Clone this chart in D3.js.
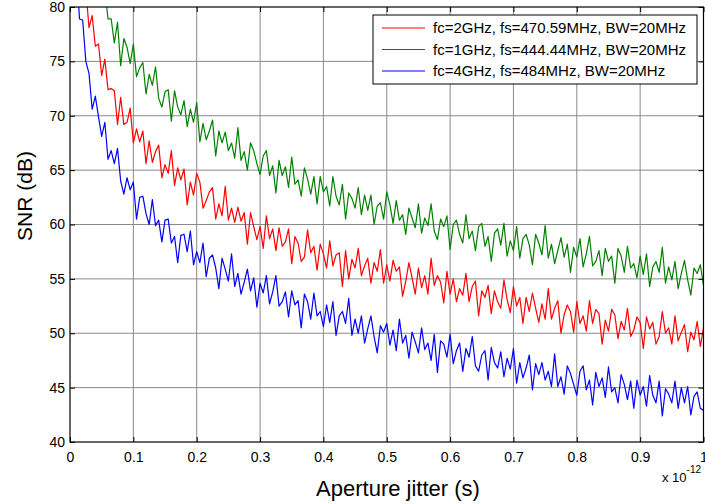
<!DOCTYPE html>
<html>
<head>
<meta charset="utf-8">
<script src="https://cdn.jsdelivr.net/npm/d3@7"></script>
<style>
  body { margin: 0; background: #fff; }
  svg { display: block; font-family: "Liberation Sans", Arial, Helvetica, sans-serif; }
  .tick text { fill: #000; }
</style>
</head>
<body>
<svg id="chart" width="705" height="504"></svg>
<script>
// aperture jitter samples, in units of 1e-12 s
const jitterStart = 0.01;
const jitterStep = 0.005;

const xTicks = [0, 0.1, 0.2, 0.3, 0.4, 0.5, 0.6, 0.7, 0.8, 0.9, 1];
const yTicks = [40, 45, 50, 55, 60, 65, 70, 75, 80];

const seriesNames = [
  "fc=2GHz, fs=470.59MHz, BW=20MHz",
  "fc=1GHz, fs=444.44MHz, BW=20MHz",
  "fc=4GHz, fs=484MHz, BW=20MHz"
];
const seriesColors = ["#ff0000", "#008000", "#0000ff"];

// SNR (dB), fc=2GHz
const snrRed = [
  90.8, 85.0, 84.1, 81.6, 78.1, 79.2, 76.4, 76.6, 73.7, 75.2,
  72.4, 72.5, 72.3, 69.2, 71.7, 69.2, 69.4, 70.7, 67.5, 68.8,
  67.6, 68.6, 65.6, 67.7, 65.7, 66.7, 67.3, 64.3, 65.5, 64.7,
  66.8, 63.6, 65.2, 64.1, 65.1, 61.8, 63.9, 62.7, 64.7, 63.9,
  61.5, 62.2, 63.0, 63.4, 60.5, 61.9, 60.8, 63.5, 60.4, 61.5,
  60.2, 61.6, 60.3, 61.1, 58.2, 61.1, 59.8, 58.6, 59.8, 57.8,
  60.8, 58.7, 59.6, 57.6, 59.7, 58.0, 58.4, 59.6, 56.4, 58.9,
  58.3, 56.6, 57.0, 59.5, 57.4, 58.0, 55.8, 58.2, 57.3, 56.0,
  58.5, 56.2, 57.2, 57.4, 54.3, 57.6, 55.0, 56.8, 56.0, 57.8,
  55.3, 56.2, 56.9, 54.6, 56.5, 55.7, 57.7, 54.6, 56.3, 54.8,
  56.7, 55.7, 56.1, 53.4, 54.8, 56.5, 55.1, 53.6, 56.0, 54.2,
  55.3, 53.6, 56.9, 54.4, 55.3, 54.7, 52.8, 55.7, 53.6, 55.0,
  52.9, 54.1, 53.5, 55.5, 52.9, 54.3, 54.8, 51.6, 53.9, 53.3,
  54.4, 51.8, 53.9, 52.9, 52.3, 54.9, 53.1, 51.9, 54.3, 52.5,
  53.3, 50.9, 53.3, 52.0, 53.7, 52.3, 51.0, 52.7, 51.3, 54.1,
  51.3, 52.3, 53.0, 50.0, 51.7, 52.6, 52.0, 50.1, 52.9, 50.9,
  51.6, 50.2, 53.0, 50.9, 52.2, 51.8, 49.0, 51.2, 50.2, 52.2,
  51.7, 49.5, 51.1, 50.3, 52.3, 49.7, 50.3, 51.5, 51.0, 48.6,
  51.5, 50.4, 51.0, 49.0, 49.7, 52.0, 50.0, 50.5, 49.0, 51.6,
  49.3, 50.1, 50.8, 48.3, 50.1, 49.4, 51.1, 48.8, 50.5
];

// SNR (dB), fc=1GHz
const snrGreen = [
  95.8, 90.8, 91.5, 87.3, 86.3, 82.8, 84.0, 82.1, 80.1, 81.6,
  78.9, 78.9, 76.7, 78.6, 74.6, 77.1, 76.3, 74.8, 76.6, 73.6,
  74.4, 74.9, 72.0, 73.8, 72.8, 74.5, 71.6, 70.8, 72.2, 72.4,
  69.5, 72.3, 70.8, 70.1, 71.4, 69.0, 70.6, 69.4, 71.2, 67.6,
  69.3, 67.8, 68.6, 69.6, 66.3, 68.6, 67.5, 68.5, 66.8, 67.5,
  66.1, 68.9, 65.9, 66.7, 65.0, 67.5, 66.8, 65.6, 64.6, 66.3,
  66.8, 64.5, 65.4, 62.9, 65.9, 64.5, 65.3, 63.4, 66.2, 63.7,
  64.1, 62.6, 65.2, 64.2, 62.8, 64.4, 61.9, 64.4, 63.0, 63.5,
  61.7, 64.4, 62.6, 61.8, 63.7, 60.5, 62.9, 62.4, 61.5, 63.4,
  60.9, 62.7, 61.3, 62.7, 60.0, 61.7, 62.0, 60.5, 63.0, 61.8,
  60.1, 62.2, 60.4, 60.9, 59.1, 61.5, 60.6, 59.7, 61.9, 59.2,
  60.6, 59.9, 61.9, 59.4, 58.6, 60.5, 59.8, 60.8, 57.7, 60.0,
  60.4, 59.1, 58.3, 60.9, 58.7, 59.4, 57.6, 59.8, 60.1, 58.0,
  58.9, 56.6, 59.2, 59.6, 58.1, 60.1, 57.1, 58.5, 57.6, 59.8,
  56.9, 58.7, 59.1, 58.1, 56.3, 59.1, 58.3, 57.2, 59.9, 56.9,
  58.2, 56.4, 57.6, 58.8, 57.0, 58.2, 55.6, 57.9, 57.0, 58.7,
  56.1, 57.3, 58.9, 56.2, 56.6, 57.6, 55.3, 57.8, 56.6, 57.1,
  54.6, 57.8, 57.1, 55.6, 58.0, 56.0, 56.4, 55.1, 57.1, 55.4,
  57.3, 54.3, 56.1, 56.6, 55.6, 57.9, 54.6, 56.1, 54.9, 56.6,
  54.1, 55.5, 56.7, 54.9, 53.5, 56.0, 55.5, 56.3, 54.4
];

// SNR (dB), fc=4GHz
const snrBlue = [
  83.8, 78.9, 78.8, 75.0, 73.9, 70.6, 71.8, 69.9, 68.1, 69.4,
  66.0, 66.8, 65.6, 67.0, 64.0, 62.8, 64.3, 63.2, 63.9, 60.5,
  62.5, 62.6, 61.0, 60.0, 62.3, 59.9, 60.4, 58.4, 60.4, 60.5,
  58.3, 58.9, 56.5, 59.0, 59.1, 57.5, 59.4, 56.3, 57.5, 56.5,
  58.3, 55.2, 56.9, 57.2, 56.0, 54.1, 56.9, 55.9, 54.8, 57.3,
  54.3, 55.5, 53.6, 54.7, 55.9, 53.9, 55.1, 52.4, 54.6, 53.7,
  55.3, 52.7, 53.8, 55.3, 52.5, 52.9, 53.8, 51.5, 53.9, 52.6,
  53.0, 50.5, 53.6, 52.9, 51.3, 53.7, 51.6, 52.0, 50.6, 52.6,
  51.0, 52.9, 49.8, 51.6, 52.0, 50.9, 53.2, 49.8, 51.3, 50.0,
  51.6, 49.1, 50.4, 51.6, 49.7, 48.2, 50.7, 50.1, 50.9, 48.9,
  50.3, 48.4, 51.3, 49.1, 49.8, 47.7, 50.1, 49.2, 48.2, 50.5,
  48.5, 49.1, 47.5, 49.9, 46.4, 49.3, 49.0, 47.8, 49.9, 47.2,
  48.4, 49.1, 46.5, 48.6, 47.8, 49.7, 47.0, 46.5, 48.0, 48.4,
  45.7, 48.7, 47.3, 46.8, 48.3, 46.0, 47.7, 46.7, 48.6, 45.4,
  47.3, 45.9, 46.8, 48.0, 44.8, 47.2, 46.2, 47.3, 45.7, 46.5,
  45.1, 48.1, 45.1, 46.0, 44.4, 47.0, 46.3, 45.3, 44.3, 46.5,
  47.0, 44.8, 45.7, 43.4, 46.4, 45.1, 45.9, 44.1, 46.9, 44.6,
  45.0, 43.6, 46.2, 45.3, 43.9, 45.6, 43.1, 45.7, 44.3, 45.1,
  43.3, 46.1, 44.3, 43.6, 45.6, 42.4, 44.9, 44.4, 43.6, 45.6,
  43.1, 45.0, 43.6, 45.1, 42.5, 44.2, 44.6, 43.1, 42.9
];

const series = [snrRed, snrGreen, snrBlue];

const width = 705, height = 504;
const margin = { top: 7, right: 1.5, bottom: 62, left: 70 };

const svg = d3.select("#chart");

const x = d3.scaleLinear()
  .domain([0, 1])
  .range([margin.left, width - margin.right]);

const y = d3.scaleLinear()
  .domain([40, 80])
  .range([height - margin.bottom, margin.top]);

// grid
svg.append("g")
  .selectAll("line")
  .data(xTicks.slice(1, -1))
  .join("line")
    .attr("x1", d => x(d)).attr("x2", d => x(d))
    .attr("y1", y(40)).attr("y2", y(80))
    .attr("stroke", "#8a8a8a")
    .attr("stroke-width", 1);

svg.append("g")
  .selectAll("line")
  .data(yTicks.slice(1, -1))
  .join("line")
    .attr("x1", x(0)).attr("x2", x(1))
    .attr("y1", d => y(d)).attr("y2", d => y(d))
    .attr("stroke", "#8a8a8a")
    .attr("stroke-width", 1);

// curves
svg.append("clipPath").attr("id", "plot-clip")
  .append("rect")
    .attr("x", x(0)).attr("y", y(80))
    .attr("width", x(1) - x(0)).attr("height", y(40) - y(80));

const line = d3.line()
  .x((d, i) => x(jitterStart + i * jitterStep))
  .y(d => y(d));

svg.append("g")
  .attr("clip-path", "url(#plot-clip)")
  .selectAll("path")
  .data(series)
  .join("path")
    .attr("fill", "none")
    .attr("stroke", (d, i) => seriesColors[i])
    .attr("stroke-width", 1.2)
    .attr("stroke-linejoin", "round")
    .attr("d", line);

// axes, ticks pointing inward on all four sides
function noDomain(g) { g.select(".domain").remove(); }

svg.append("g")
  .attr("transform", `translate(0,${y(40)})`)
  .call(d3.axisBottom(x).tickValues(xTicks).tickFormat(d3.format("")).tickSizeInner(-5).tickSizeOuter(0).tickPadding(10))
  .call(noDomain)
  .call(g => g.selectAll("text").attr("font-size", 14));

svg.append("g")
  .attr("transform", `translate(0,${y(80)})`)
  .call(d3.axisTop(x).tickValues(xTicks).tickFormat("").tickSizeInner(-5).tickSizeOuter(0))
  .call(noDomain);

svg.append("g")
  .attr("transform", `translate(${x(0)},0)`)
  .call(d3.axisLeft(y).tickValues(yTicks).tickSizeInner(-5).tickSizeOuter(0).tickPadding(5))
  .call(noDomain)
  .call(g => g.selectAll("text").attr("font-size", 14));

svg.append("g")
  .attr("transform", `translate(${x(1)},0)`)
  .call(d3.axisRight(y).tickValues(yTicks).tickFormat("").tickSizeInner(-5).tickSizeOuter(0))
  .call(noDomain);

svg.append("rect")
  .attr("x", x(0)).attr("y", y(80))
  .attr("width", x(1) - x(0)).attr("height", y(40) - y(80))
  .attr("fill", "none")
  .attr("stroke", "#000")
  .attr("stroke-width", 1.2);

// labels
svg.append("text")
  .attr("x", 398).attr("y", 496)
  .attr("text-anchor", "middle")
  .attr("font-size", 22)
  .text("Aperture jitter (s)");

svg.append("text")
  .attr("transform", "translate(32,196) rotate(-90)")
  .attr("text-anchor", "middle")
  .attr("font-size", 21)
  .text("SNR (dB)");

const expo = svg.append("text")
  .attr("x", 662).attr("y", 482)
  .attr("font-size", 13);
expo.append("tspan").text("x 10");
expo.append("tspan").attr("dy", -9).attr("font-size", 10).text("-12");

// legend
const legend = svg.append("g").attr("transform", "translate(373,15)");

legend.append("rect")
  .attr("width", 324).attr("height", 69)
  .attr("fill", "#fff")
  .attr("stroke", "#000")
  .attr("stroke-width", 1);

const item = legend.selectAll("g")
  .data(seriesNames)
  .join("g")
    .attr("transform", (d, i) => `translate(0,${13 + i * 21.5})`);

item.append("line")
  .attr("x1", 9).attr("x2", 52)
  .attr("stroke", (d, i) => seriesColors[i])
  .attr("stroke-width", 1);

item.append("text")
  .attr("x", 60)
  .attr("dy", "0.35em")
  .attr("font-size", 15)
  .text(d => d);
</script>
</body>
</html>
